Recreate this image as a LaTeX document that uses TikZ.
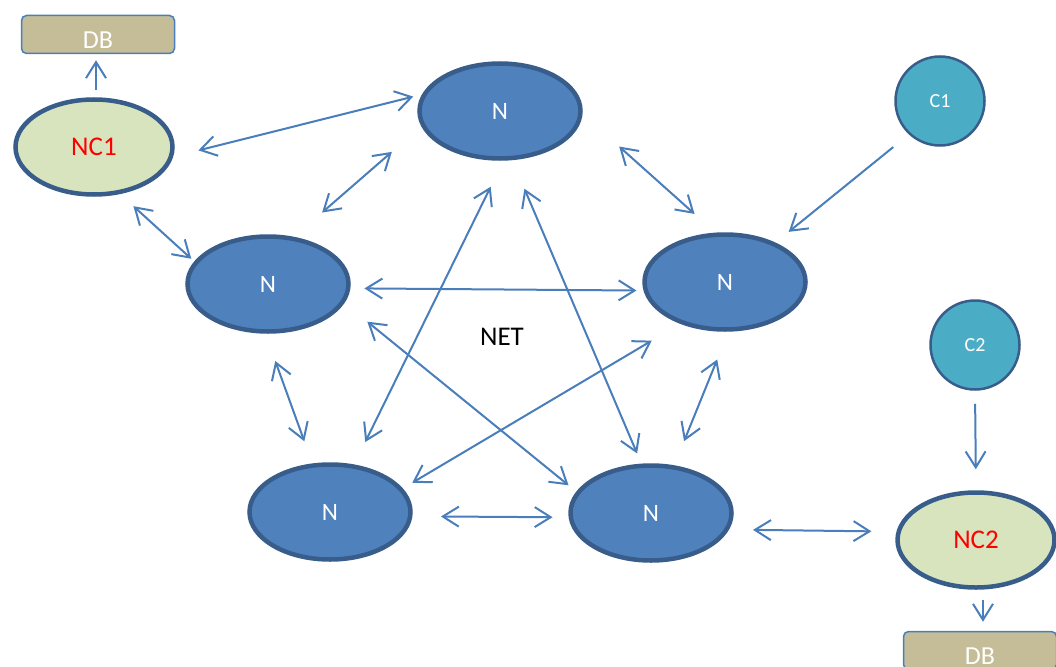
\documentclass[tikz,border=0pt]{standalone}
\usepackage{fontspec}
\setmainfont{Carlito}
\usetikzlibrary{arrows.meta,shapes.geometric}
\definecolor{linkblue}{HTML}{4A7EBB}
\definecolor{nodeblue}{HTML}{4F81BD}
\definecolor{rimblue}{HTML}{385D8A}
\definecolor{ctrlgreen}{HTML}{D7E4BD}
\definecolor{clientcyan}{HTML}{4BACC6}
\definecolor{dbtan}{HTML}{C4BD97}
\begin{document}
\begin{tikzpicture}[x=1pt,y=-1pt,
  netnode/.style={ellipse, draw=rimblue, line width=4.5pt, fill=nodeblue,
    minimum width=161pt, minimum height=95pt, inner sep=0pt, text=white,
    font=\fontsize{25}{30}\selectfont},
  ctrl/.style={ellipse, draw=rimblue, line width=4.5pt, fill=ctrlgreen,
    minimum width=157pt, minimum height=95pt, inner sep=0pt, text=red,
    font=\fontsize{27}{32}\selectfont},
  client/.style={circle, draw=rimblue, line width=2.5pt, fill=clientcyan,
    minimum size=89pt, inner sep=0pt, text=white,
    font=\fontsize{20}{24}\selectfont},
  store/.style={rectangle, rounded corners=5pt, draw=linkblue, line width=1.5pt,
    fill=dbtan, minimum width=153pt, minimum height=38pt, inner sep=0pt,
    text=white, font=\fontsize{26}{30}\selectfont, text height=27.5pt, text depth=0pt},
  link/.style={draw=linkblue, line width=2pt},
  >={Straight Barb[length=16pt,width=20pt]},
]
\useasboundingbox (0,0) rectangle (1056,666);

% storage boxes
\node[store] (db1) at (98,34.5) {DB};
\node[store] (db2) at (980,650.5) {DB};

% controllers
\node[ctrl] (nc1) at (94,147) {NC1};
\node[ctrl] (nc2) at (976,540) {NC2};

% clients
\node[client] (c1) at (940,101) {C1};
\node[client] (c2) at (975,345) {C2};

% network nodes
\node[netnode] (nt)  at (500,111) {N};
\node[netnode] (nl)  at (268,284) {N};
\node[netnode] (nr)  at (725,282) {N};
\node[netnode] (nbl) at (330,512) {N};
\node[netnode] (nbr) at (651,513) {N};

\node[font=\fontsize{27}{32}\selectfont] (net) at (502,337) {NET};

% controller / storage links
\draw[link,->,shorten <=7pt,shorten >=6pt]
  ([xshift=2pt]nc1.north) -- ([xshift=2pt]nc1.north |- db1.south);
\draw[link,->,shorten <=10pt,shorten >=9pt]
  (nc2.-82) -- (nc2.-82 |- db2.north);

% client links
\draw[link,->,shorten <=20pt,shorten >=17pt] (c1.-133) -- (nr.38);
\draw[link,->,shorten <=13pt,shorten >=21pt] (c2.south) -- (nc2.north);

% controller / network links
\draw[link,<->,shorten <=26pt,shorten >=9pt] (nc1.-7) -- (nt.168);
\draw[link,<->,shorten <=18pt,shorten >=4pt] (nc1.-61) -- (nl.163);
\draw[link,<->,shorten <=24pt,shorten >=25pt] (nbr.-12.5) -- (nc2.174);

% mesh between network nodes
\draw[link,<->,shorten <=37pt,shorten >=39pt] (nl.61) -- (nt.-169);
\draw[link,<->,shorten <=49pt,shorten >=28pt] (nt.-2) -- (nr.101);
\draw[link,<->,shorten <=14pt,shorten >=7pt] (nl.-3.5) -- (nr.-174);
\draw[link,<->,shorten <=29pt,shorten >=25pt] (nt.-86) -- (nbl.63);
\draw[link,<->,shorten <=31pt,shorten >=11pt] (nt.-76) -- (nbr.101);
\draw[link,<->,shorten <=29.5pt,shorten >=10pt] (nl.-14) -- (nbr.164);
\draw[link,<->,shorten <=33pt,shorten >=11pt] (nr.-137) -- (nbl.18);
\draw[link,<->,shorten <=29pt,shorten >=23.5pt] (nl.-93) -- (nbl.110);
\draw[link,<->,shorten <=30pt,shorten >=26pt] (nr.-86) -- (nbr.64.5);
\draw[link,<->,shorten <=28.5pt,shorten >=16pt] (nbl.-3.5) -- (nbr.-177);
\end{tikzpicture}
\end{document}
